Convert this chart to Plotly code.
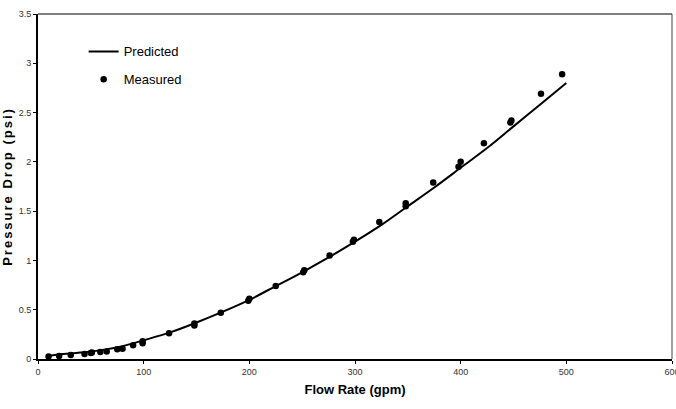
import plotly.graph_objects as go

# Measured data (gpm, psi)
meas_flow = [10, 20, 31, 44, 50, 51, 59, 65, 75, 80, 90, 99, 99, 124, 148, 148, 173,
             199, 200, 225, 251, 252, 276, 298, 299, 323, 348, 348, 374, 398, 400, 422,
             447, 448, 476, 496]
meas_dp = [0.025, 0.03, 0.04, 0.05, 0.06, 0.065, 0.07, 0.075, 0.10, 0.105, 0.14, 0.16,
           0.18, 0.26, 0.34, 0.36, 0.47, 0.59, 0.61, 0.74, 0.88, 0.90, 1.05, 1.19, 1.21,
           1.39, 1.55, 1.58, 1.79, 1.95, 2.00, 2.19, 2.40, 2.42, 2.69, 2.89]

# Predicted curve
pred_flow = [10, 20, 40, 60, 80, 100, 125, 150, 175, 200, 225, 250, 275, 300, 325, 350,
             375, 400, 425, 450, 475, 500]
pred_dp = [0.03, 0.045, 0.065, 0.09, 0.13, 0.19, 0.27, 0.37, 0.48, 0.60, 0.74, 0.88,
           1.03, 1.19, 1.36, 1.55, 1.74, 1.94, 2.14, 2.36, 2.58, 2.80]

x_ticks = [0, 100, 200, 300, 400, 500, 600]
y_ticks = [0, 0.5, 1, 1.5, 2, 2.5, 3, 3.5]
y_ticklabels = ["0", "0.5", "1", "1.5", "2", "2.5", "3", "3.5"]

fig = go.Figure()
fig.add_trace(go.Scatter(x=pred_flow, y=pred_dp, mode="lines", name="Predicted",
                         line=dict(color="black", width=2, shape="spline"),
                         legendgroup="a"))
fig.add_trace(go.Scatter(x=meas_flow, y=meas_dp, mode="markers", name="Measured",
                         marker=dict(color="black", size=6.5, symbol="circle"),
                         legendgroup="b"))

tickfont = dict(family="Liberation Sans Narrow, Liberation Sans, Arial", size=9, color="#333333")
fig.update_layout(
    width=676, height=409,
    margin=dict(l=38, r=4, t=14, b=50, autoexpand=False),
    plot_bgcolor="white", paper_bgcolor="white",
    showlegend=True,
    legend=dict(x=0.072, y=0.935, xanchor="left", yanchor="top",
                font=dict(family="Liberation Sans, Arial", size=13, color="black"),
                bgcolor="rgba(0,0,0,0)", traceorder="grouped", tracegroupgap=8,
                itemwidth=30),
    xaxis=dict(range=[0, 600], tickvals=x_ticks, ticktext=[str(v) for v in x_ticks],
               showgrid=False, zeroline=False, showline=True, linecolor="black",
               linewidth=2, ticks="outside", ticklen=3, tickcolor="black",
               tickfont=tickfont, ticklabeloverflow="allow", automargin=False,
               title=dict(text="<b>Flow Rate (gpm)</b>", standoff=9,
                          font=dict(family="Liberation Sans, Arial", size=13, color="black"))),
    yaxis=dict(range=[0, 3.5], tickvals=y_ticks, ticktext=y_ticklabels,
               showgrid=False, zeroline=False, showline=True, linecolor="black",
               linewidth=2, ticks="outside", ticklen=3, tickcolor="black",
               tickfont=tickfont, automargin=False,
               title=dict(text="<span style=\"letter-spacing:2px\"><b>Pressure Drop (psi)</b></span>",
                          standoff=6,
                          font=dict(family="Liberation Sans, Arial", size=13, color="black"))),
    shapes=[
        dict(type="line", xref="paper", yref="paper", x0=0, x1=1, y0=1, y1=1,
             line=dict(color="black", width=1)),
        dict(type="line", xref="paper", yref="paper", x0=1, x1=1, y0=0, y1=1,
             line=dict(color="#444444", width=1)),
    ],
)

fig.write_html("out.html")
